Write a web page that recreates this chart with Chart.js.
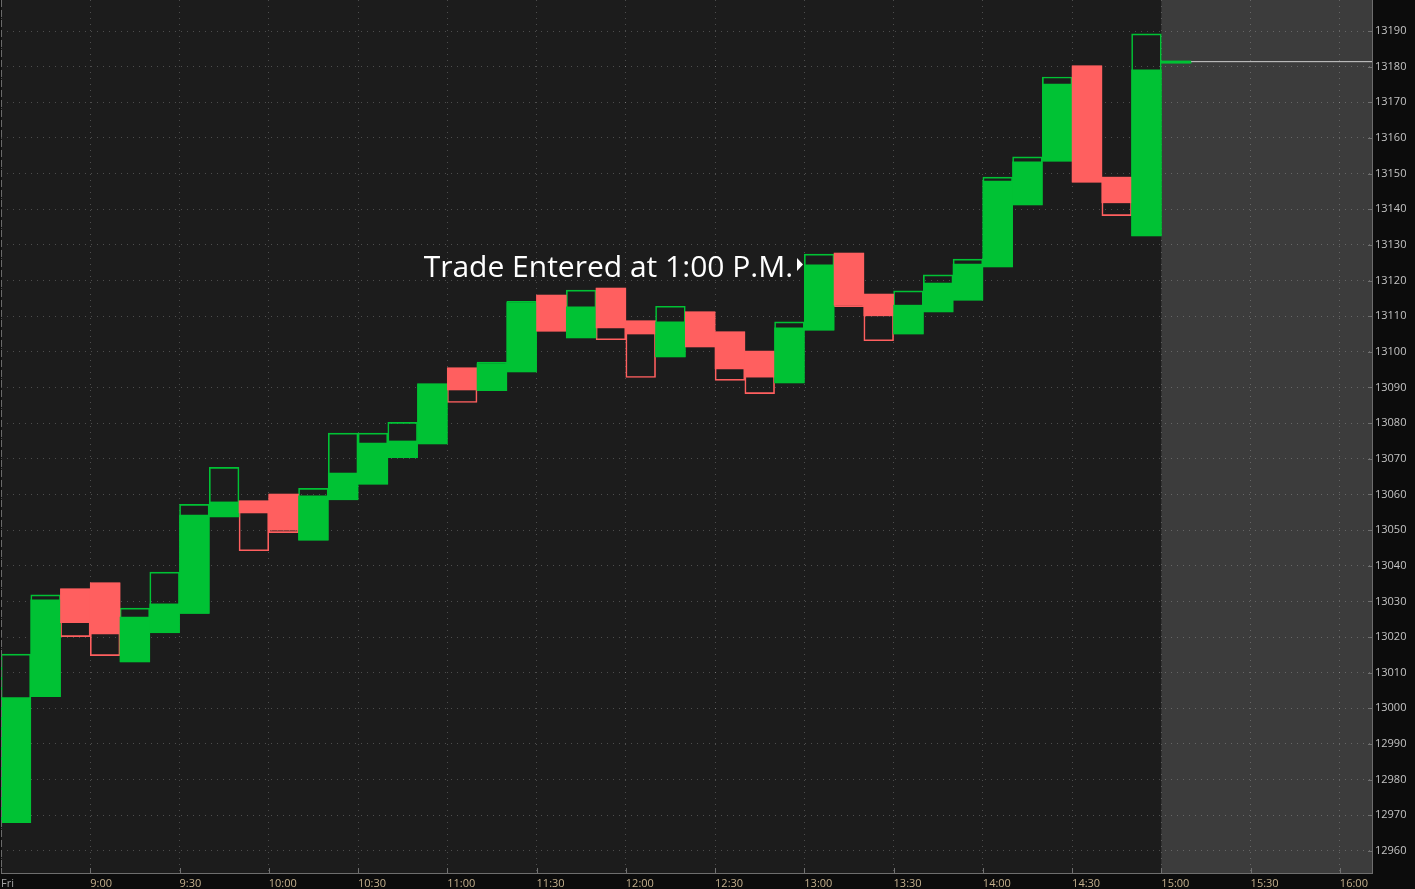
<!DOCTYPE html>
<html>
<head>
<meta charset="utf-8">
<title>Intraday</title>
<script src="https://cdn.jsdelivr.net/npm/chart.js@4/dist/chart.umd.min.js"></script>
<style>
    html, body { margin: 0; padding: 0; background: #0c0c0c; overflow: hidden; }
    #bloqueGrafico { width: 1415px; height: 889px; }
</style>
</head>
<body>
<div id="bloqueGrafico"><canvas id="chartIntradia" width="1415" height="889"></canvas></div>
<script>
//Datos de las barras de 10 minutos
var horas = ['8:30', '8:40', '8:50', '9:00', '9:10', '9:20', '9:30', '9:40', '9:50', '10:00',
    '10:10', '10:20', '10:30', '10:40', '10:50', '11:00', '11:10', '11:20', '11:30', '11:40',
    '11:50', '12:00', '12:10', '12:20', '12:30', '12:40', '12:50', '13:00', '13:10', '13:20',
    '13:30', '13:40', '13:50', '14:00', '14:10', '14:20', '14:30', '14:40', '14:50', '15:00'];
var aperturas = [12967.9, 13003.3, 13033.5, 13035.2, 13013.0, 13021.2, 13026.6, 13053.7, 13058.2, 13060.1,
    13047.2, 13058.5, 13062.9, 13070.3, 13074.2, 13095.5, 13089.1, 13094.4, 13115.9, 13103.9,
    13117.9, 13108.7, 13098.6, 13111.2, 13105.6, 13100.2, 13091.3, 13106.1, 13127.7, 13116.2,
    13105.0, 13111.2, 13114.5, 13123.8, 13141.2, 13153.5, 13180.2, 13149.0, 13132.5, 13181.0];
var maximos = [13015.2, 13031.8, 13033.5, 13035.2, 13028.1, 13038.2, 13057.2, 13067.6, 13058.2, 13060.1,
    13061.7, 13077.2, 13077.2, 13080.2, 13091.0, 13095.5, 13097.1, 13114.2, 13115.9, 13117.3,
    13117.9, 13108.7, 13112.8, 13111.2, 13105.6, 13100.2, 13108.4, 13127.4, 13127.7, 13116.2,
    13117.1, 13121.6, 13126.0, 13149.0, 13154.7, 13177.1, 13180.2, 13149.0, 13189.2, 13181.6];
var minimos = [12967.9, 13003.3, 13020.1, 13014.8, 13013.0, 13021.2, 13026.6, 13053.7, 13044.2, 13049.3,
    13047.2, 13058.5, 13062.9, 13070.3, 13074.2, 13085.8, 13089.1, 13094.4, 13105.8, 13103.9,
    13103.4, 13092.8, 13098.6, 13101.4, 13092.0, 13088.3, 13091.3, 13106.1, 13112.7, 13103.1,
    13105.0, 13111.2, 13114.5, 13123.8, 13141.2, 13153.5, 13147.6, 13138.2, 13132.5, 13181.0];
var cierres = [13003.0, 13030.4, 13024.0, 13020.9, 13025.6, 13029.3, 13054.2, 13057.9, 13054.8, 13050.0,
    13059.6, 13066.0, 13074.4, 13075.0, 13091.0, 13089.3, 13096.7, 13113.8, 13105.8, 13112.6,
    13106.7, 13105.0, 13108.4, 13101.4, 13095.2, 13092.9, 13106.7, 13124.4, 13113.1, 13110.1,
    13113.1, 13119.3, 13124.6, 13147.9, 13153.3, 13175.1, 13147.6, 13141.8, 13179.1, 13181.6];
var ultimoPrecio = 13181.4;

//Ejes
var ticksX = ['8:30', '9:00', '9:30', '10:00', '10:30', '11:00', '11:30', '12:00', '12:30',
    '13:00', '13:30', '14:00', '14:30', '15:00', '15:30', '16:00'];
var etiquetasX = ['Fri', '9:00', '9:30', '10:00', '10:30', '11:00', '11:30', '12:00', '12:30',
    '13:00', '13:30', '14:00', '14:30', '15:00', '15:30', '16:00'];
var ticksY = [12960, 12970, 12980, 12990, 13000, 13010, 13020, 13030, 13040, 13050, 13060, 13070,
    13080, 13090, 13100, 13110, 13120, 13130, 13140, 13150, 13160, 13170, 13180, 13190];
var horaInicio = '8:30';
var horaFin = '16:10.8';
var horaCierre = '15:00';
var precioMin = 12953.8;
var precioMax = 13198.7;

//Nota
var nota = 'Trade Entered at 1:00 P.M.';
var notaHora = '13:00';
var notaPrecio = 13124.5;

var VERDE = '#00c234';
var ROJO = '#ff5f5f';
var minutosBarra = 10;

function aMinutos(h) {
    var p = h.split(':');
    return parseInt(p[0]) * 60 + parseFloat(p[1]);
}

var colores = aperturas.map(function(a, i) {
    return cierres[i] >= a ? VERDE : ROJO;
});
var cuerpos = horas.map(function(h, i) {
    return {x: aMinutos(h) + minutosBarra / 2, y: [aperturas[i], cierres[i]]};
});
var rangos = horas.map(function(h, i) {
    return {x: aMinutos(h) + minutosBarra / 2, y: [minimos[i], maximos[i]]};
});
var lineaPrecio = [
    {x: aMinutos(horas[horas.length - 1]) + minutosBarra, y: ultimoPrecio},
    {x: aMinutos(horaFin), y: ultimoPrecio}
];

//Fondo, zona cerrada, marcas de los ejes y la nota
var pluginFondo = {
    id: 'fondo',
    beforeDraw: function(chart) {
        var ctx = chart.ctx, a = chart.chartArea;
        var xc = chart.scales.x.getPixelForValue(aMinutos(horaCierre));
        ctx.save();
        ctx.fillStyle = '#0c0c0c';
        ctx.fillRect(0, 0, chart.width, chart.height);
        ctx.fillStyle = '#1c1c1c';
        ctx.fillRect(a.left, a.top, a.right - a.left, a.bottom - a.top);
        ctx.fillStyle = '#3c3c3c';
        ctx.fillRect(xc, a.top, a.right - xc, a.bottom - a.top);
        ctx.restore();
    },
    afterDraw: function(chart) {
        var ctx = chart.ctx, a = chart.chartArea;
        var sx = chart.scales.x, sy = chart.scales.y;
        ctx.save();
        //marcas hacia dentro
        ctx.strokeStyle = '#707070';
        ctx.lineWidth = 1;
        ctx.beginPath();
        sx.ticks.forEach(function(t) {
            var px = Math.round(sx.getPixelForValue(t.value)) + 0.5;
            ctx.moveTo(px, a.bottom - 5);
            ctx.lineTo(px, a.bottom);
        });
        sy.ticks.forEach(function(t) {
            var py = Math.round(sy.getPixelForValue(t.value)) + 0.5;
            ctx.moveTo(a.right - 4, py);
            ctx.lineTo(a.right, py);
        });
        ctx.stroke();
        //separador de dia
        ctx.strokeStyle = '#6a6a6a';
        ctx.setLineDash([7, 3]);
        ctx.beginPath();
        ctx.moveTo(a.left + 0.5, a.top);
        ctx.lineTo(a.left + 0.5, a.bottom);
        ctx.stroke();
        ctx.setLineDash([]);
        //nota
        var tx = sx.getPixelForValue(aMinutos(notaHora)) - 1.3;
        var ty = sy.getPixelForValue(notaPrecio);
        ctx.fillStyle = '#ffffff';
        ctx.beginPath();
        ctx.moveTo(tx, ty);
        ctx.lineTo(tx - 6, ty - 6.5);
        ctx.lineTo(tx - 6, ty + 6.5);
        ctx.closePath();
        ctx.fill();
        ctx.font = '30px "Open Sans"';
        ctx.textAlign = 'right';
        ctx.textBaseline = 'alphabetic';
        ctx.fillText(nota, tx - 10, ty + 12);
        ctx.restore();
    }
};

Chart.defaults.font.family = "'Open Sans', sans-serif";
var ctx = document.getElementById('chartIntradia').getContext('2d');
var myChart = new Chart(ctx, {
    type: 'bar',
    data: {
        datasets: [
            {
                type: 'line',
                label: 'Ultimo',
                data: lineaPrecio,
                borderColor: '#d0d0d0',
                borderWidth: 1,
                pointRadius: 0,
                order: 0
            },
            {
                label: 'Cuerpo',
                data: cuerpos,
                backgroundColor: colores,
                borderWidth: 0,
                grouped: false,
                barPercentage: 1,
                categoryPercentage: 1,
                order: 1
            },
            {
                label: 'Rango',
                data: rangos,
                backgroundColor: 'rgba(0,0,0,0)',
                borderColor: colores,
                borderWidth: 1,
                borderSkipped: false,
                grouped: false,
                barPercentage: 1,
                categoryPercentage: 1,
                order: 2
            }
        ]
    },
    options: {
        responsive: false,
        animation: false,
        layout: { padding: { left: 1, top: 0, right: 0, bottom: 0 } },
        plugins: {
            legend: { display: false },
            tooltip: { enabled: false }
        },
        scales: {
            x: {
                type: 'linear',
                min: aMinutos(horaInicio),
                max: aMinutos(horaFin),
                offset: false,
                afterBuildTicks: function(scale) {
                    scale.ticks = ticksX.map(function(t) { return {value: aMinutos(t)}; });
                },
                afterFit: function(scale) {
                    scale.height = 16;
                    scale.paddingLeft = 0;
                    scale.paddingRight = 0;
                },
                grid: { color: 'rgba(255,255,255,0.22)', offset: false, drawTicks: false },
                border: { color: '#6e6e6e', width: 1, dash: [1, 5] },
                ticks: {
                    autoSkip: false,
                    maxRotation: 0,
                    align: 'start',
                    padding: 4,
                    font: { size: 11 },
                    color: function(c) { return c.index === 0 ? '#a4a4a4' : '#c4b08e'; },
                    callback: function(value, index) { return etiquetasX[index]; }
                }
            },
            y: {
                type: 'linear',
                position: 'right',
                min: precioMin,
                max: precioMax,
                afterBuildTicks: function(scale) {
                    scale.ticks = ticksY.map(function(v) { return {value: v}; });
                },
                afterFit: function(scale) {
                    scale.width = 43;
                    scale.paddingTop = 0;
                    scale.paddingBottom = 0;
                },
                grid: { color: 'rgba(255,255,255,0.22)', drawTicks: false },
                border: { color: '#6e6e6e', width: 1, dash: [1, 5] },
                ticks: {
                    padding: 3,
                    font: { size: 11 },
                    color: '#c4c4c4',
                    callback: function(value) { return String(value); }
                }
            }
        }
    },
    plugins: [pluginFondo]
});
</script>
</body>
</html>
